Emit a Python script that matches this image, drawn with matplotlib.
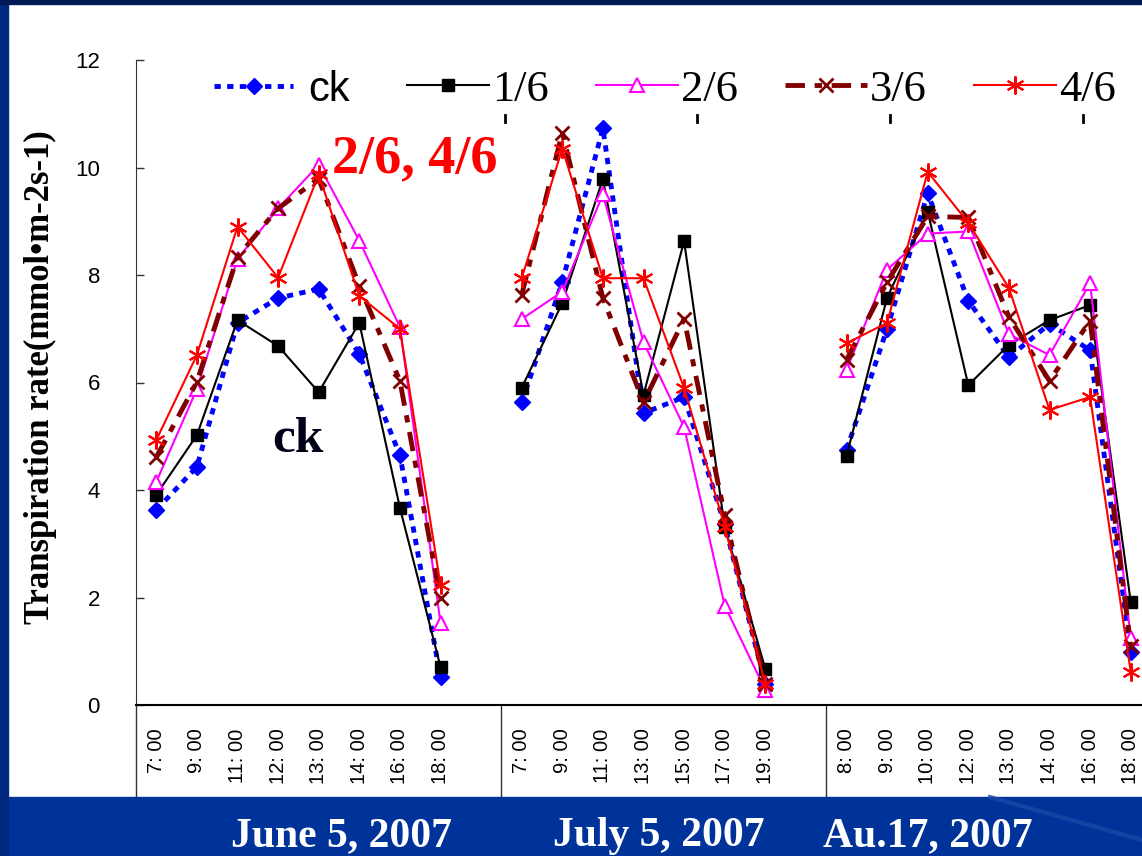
import matplotlib

matplotlib.use("Agg")
import matplotlib.pyplot as plt
from matplotlib.patches import Rectangle
from matplotlib.lines import Line2D

SERIF = "Liberation Serif"
SANS = "Liberation Sans"
W, H = 1142, 856

dates = ["June 5, 2007", "July 5, 2007", "Au.17, 2007"]
times_jun = ["7: 00", "9: 00", "11: 00", "12: 00", "13: 00", "14: 00", "16: 00", "18: 00"]
times_jul = ["7: 00", "9: 00", "11: 00", "13: 00", "15: 00", "17: 00", "19: 00"]
times_aug = ["8: 00", "9: 00", "10: 00", "12: 00", "13: 00", "14: 00", "16: 00", "18: 00"]

series = ["ck", "1/6", "2/6", "3/6", "4/6"]

ck_jun = [3.63, 4.43, 7.11, 7.57, 7.74, 6.53, 4.65, 0.52]
t1_jun = [3.91, 5.02, 7.16, 6.68, 5.82, 7.11, 3.67, 0.71]
t2_jun = [4.15, 5.88, 8.30, 9.24, 10.05, 8.64, 7.03, 1.53]
t3_jun = [4.61, 6.01, 8.34, 9.24, 9.79, 7.80, 6.03, 1.99]
t4_jun = [4.93, 6.51, 8.90, 7.95, 9.87, 7.61, 7.00, 2.23]

ck_jul = [5.63, 7.87, 10.73, 5.43, 5.73, 3.36, 0.39]
t1_jul = [5.90, 7.48, 9.79, 5.77, 8.63, 3.32, 0.67]
t2_jul = [7.18, 7.69, 9.50, 6.75, 5.17, 1.85, 0.28]
t3_jul = [7.63, 10.65, 7.57, 5.63, 7.18, 3.53, 0.39]
t4_jul = [7.94, 10.35, 7.94, 7.94, 5.90, 3.32, 0.39]

ck_aug = [4.74, 7.00, 9.52, 7.52, 6.47, 7.09, 6.60, 0.99]
t1_aug = [4.63, 7.58, 9.18, 5.95, 6.70, 7.16, 7.44, 1.92]
t2_aug = [6.23, 8.10, 8.77, 8.81, 6.90, 6.51, 7.85, 1.25]
t3_aug = [6.42, 7.87, 9.09, 9.07, 7.22, 6.03, 7.15, 1.10]
t4_aug = [6.73, 7.11, 9.92, 8.97, 7.76, 5.49, 5.73, 0.62]

groups = [
    (times_jun, [ck_jun, t1_jun, t2_jun, t3_jun, t4_jun]),
    (times_jul, [ck_jul, t1_jul, t2_jul, t3_jul, t4_jul]),
    (times_aug, [ck_aug, t1_aug, t2_aug, t3_aug, t4_aug]),
]

# line look per series, same order as `series`
styles = [
    dict(color="#0000FF", lw=3.5, dashes=(1.3, 1.3), marker="D", ms=8,
         mfc="#0000FF", mec="#0000FF"),
    dict(color="black", lw=1.5, ls="-", marker="s", ms=9, mfc="black", mec="black"),
    dict(color="#FF00FF", lw=1.5, ls="-", marker="^", ms=10, mfc="white",
         mec="#FF00FF", mew=1.5),
    dict(color="#800000", lw=3.5, dashes=(4, 2, 1.5, 2), marker="x", ms=10,
         mec="#800000", mew=2),
    dict(color="#FF0000", lw=1.5, ls="-", marker=(6, 2, 0), ms=13,
         mec="#FF0000", mew=1.5),
]

fig = plt.figure(figsize=(W / 100, H / 100), dpi=100)
fig.patch.set_facecolor("white")

# slide frame
fig.patches.append(Rectangle((0, 0), 1, 59 / H, transform=fig.transFigure,
                             color="#003399", zorder=1))
fig.patches.append(Rectangle((0, 0), 8 / W, 1, transform=fig.transFigure,
                             color="#00297f", zorder=1))
fig.patches.append(Rectangle((0, 1 - 4 / H), 1, 4 / H, transform=fig.transFigure,
                             color="#001a55", zorder=1))
fig.add_artist(Line2D([990 / W, 1], [59 / H, 16 / H], color="#1a48a6", lw=3,
                      alpha=0.8, transform=fig.transFigure, zorder=1.5))

ax = fig.add_axes([136 / W, 151 / H, 1015 / W, 645 / H])

ticks, labels, seps = [], [], []
handles = []
start = 0
for times, vals in groups:
    xs = list(range(start, start + len(times)))
    seps.append(start - 0.5)
    ticks += xs
    labels += times
    for i, (name, v) in enumerate(zip(series, vals)):
        ln, = ax.plot(xs, v, label=name, zorder=3 + i, clip_on=False, **styles[i])
        if start == 0:
            handles.append(ln)
    start += len(times) + 1

ax.set_xlim(-0.5, 24.5)
ax.set_ylim(0, 12)
ax.set_yticks(range(0, 13, 2))
ax.set_xticks(ticks)
ax.set_xticklabels(labels, rotation=90, fontfamily=SANS, fontsize=14.5)
ax.tick_params(axis="x", length=0, pad=17)
ax.tick_params(axis="y", direction="in", length=6, width=1, color="#333333",
               pad=26, labelsize=16)
for t in ax.get_yticklabels():
    t.set_fontfamily(SANS)
for s in ("top", "right"):
    ax.spines[s].set_visible(False)
ax.spines["left"].set_color("#333333")
ax.spines["bottom"].set_color("black")
ax.spines["bottom"].set_linewidth(1.5)

# category group separators below the axis
for s in seps:
    ax.plot([s, s], [0, -92 / 645], transform=ax.get_xaxis_transform(),
            color="#333333", lw=1, clip_on=False)

# legend: "ck" entry is in a sans font, the fractions in a serif font
leg_ck = ax.legend(handles[:1], series[:1], loc="center left",
                   bbox_to_anchor=(214 / W, 1 - 90 / H),
                   bbox_transform=fig.transFigure, frameon=False,
                   borderaxespad=0, borderpad=0, handlelength=1.9,
                   handletextpad=0.35, prop=dict(family=SANS, size=30))
ax.add_artist(leg_ck)
ax.legend(handles[1:], series[1:], ncol=4, loc="center left",
          bbox_to_anchor=(407 / W, 1 - 90 / H), bbox_transform=fig.transFigure,
          frameon=False, borderaxespad=0, borderpad=0, handlelength=1.85,
          handletextpad=0.07, columnspacing=1.05,
          prop=dict(family=SERIF, size=32))

# stray tick marks under the legend
for px in (505, 697, 890, 1083):
    fig.add_artist(Line2D([px / W, px / W], [1 - 115 / H, 1 - 122 / H],
                          color="black", lw=2, transform=fig.transFigure))

fig.text(40 / W, 1 - 377 / H, "Transpiration rate(mmol\u2022m-2s-1)", rotation=90,
         ha="center", va="center", family=SERIF, weight="bold", fontsize=25)
fig.text(332 / W, 1 - 172 / H, "2/6, 4/6", ha="left", va="baseline",
         family=SERIF, weight="bold", fontsize=39, color="#FF0000")
fig.text(272 / W, 1 - 452 / H, "ck", ha="left", va="baseline",
         family=SERIF, weight="bold", fontsize=37, color="#00001a")

for d, cx in zip(dates, (341, 659, 928)):
    fig.text(cx / W, 10 / H, d, ha="center", va="baseline", family=SERIF,
             weight="bold", fontsize=30, color="white", zorder=4)

fig.savefig("out.png", dpi=100)
